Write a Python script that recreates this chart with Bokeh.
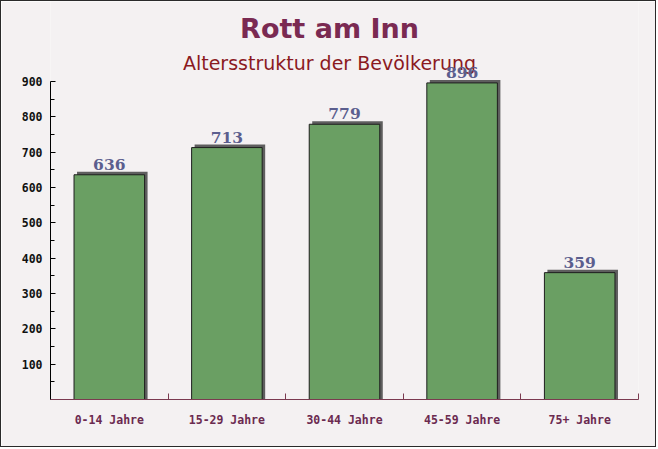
from bokeh.plotting import figure
from bokeh.models import ColumnDataSource, Range1d, FixedTicker, Label, LabelSet
from bokeh.embed import file_html
from bokeh.resources import INLINE
from bokeh.core.properties import value

categories = ["0-14 Jahre", "15-29 Jahre", "30-44 Jahre", "45-59 Jahre", "75+ Jahre"]
values = [636, 713, 779, 896, 359]
y_ticks = [100, 200, 300, 400, 500, 600, 700, 800, 900]

title_text = "Rott am Inn"
subtitle_text = "Altersstruktur der Bevölkerung"

BG = "#f4f1f2"
W, H = 656, 447      # plus a 1px border on each side
LEFT = 49
BOTTOM = 49          # px below the x axis
TOP_900 = 80         # y of the 900 tick
xs = list(range(len(categories)))
frame_h = H - BOTTOM
y_end = 900 * frame_h / (frame_h - TOP_900)
px = frame_h / y_end  # px per data unit
# shadow offsets in data units (approx 3px)
sx = 3 / 117.6
sy = 3 / px

src = ColumnDataSource(dict(
    x=xs, top=values, label=[str(v) for v in values],
    sx=[x + sx for x in xs], stop=[v + sy for v in values],
))

p = figure(width=W, height=H, output_backend="svg", toolbar_location=None,
           x_range=Range1d(-0.5, len(categories) - 0.5), y_range=Range1d(0, y_end),
           min_border_left=LEFT, min_border_right=19, min_border_top=0, min_border_bottom=BOTTOM)
p.styles = {"border": "1px solid #2a2a2a"}
p.background_fill_color = BG
p.border_fill_color = BG
p.outline_line_color = None
p.grid.visible = False

p.vbar(x="sx", top="stop", bottom=0, width=0.6, source=src,
       fill_color="#5e5e5e", line_color=None)
p.vbar(x="x", top="top", bottom=0, width=0.6, source=src,
       fill_color="#6a9f63", line_color="#1e1e1e", line_width=1)

# titles, centred on the canvas (screen units relative to the frame)
cx = W / 2 - LEFT
p.add_layout(Label(x=cx, y=frame_h - 27, x_units="screen", y_units="screen",
                   text=title_text, text_align="center", text_baseline="middle",
                   text_font="DejaVu Sans", text_font_style="bold",
                   text_font_size="27px", text_color="#7a2a52"))
p.add_layout(Label(x=cx, y=frame_h - 61, x_units="screen", y_units="screen",
                   text=subtitle_text, text_align="center", text_baseline="middle",
                   text_font="DejaVu Sans", text_font_style="normal",
                   text_font_size="19px", text_color="#8b1a1f"))

labels = LabelSet(x="x", y="top", text="label", source=src, text_align="center",
                  text_baseline="alphabetic", y_offset=5,
                  text_font=value("DejaVu Serif"), text_font_style="bold",
                  text_font_size="15.5px", text_color="#5b5e8e")
p.add_layout(labels)

xa = p.xaxis[0]
xa.ticker = FixedTicker(ticks=xs, minor_ticks=[x + 0.5 for x in [-1] + xs])
xa.major_label_overrides = {i: c for i, c in enumerate(categories)}
xa.major_tick_line_color = None
xa.minor_tick_in = 6
xa.minor_tick_out = 0
xa.minor_tick_line_color = "#7b3a50"
xa.axis_line_color = "#7b3a50"
xa.major_label_text_font = "DejaVu Sans Mono"
xa.major_label_text_font_style = "bold"
xa.major_label_text_font_size = "11.5px"
xa.major_label_text_color = "#6b2a50"
xa.major_label_standoff = 7

ya = p.yaxis[0]
ya.bounds = (0, 900)
ya.ticker = FixedTicker(ticks=y_ticks, minor_ticks=[t - 50 for t in y_ticks])
ya.major_tick_in = 5
ya.major_tick_out = 0
ya.minor_tick_in = 4
ya.minor_tick_out = 0
ya.axis_line_color = "#000000"
ya.major_label_text_font = "DejaVu Sans Mono"
ya.major_label_text_font_style = "bold"
ya.major_label_text_font_size = "11.5px"
ya.major_label_text_color = "#111111"
ya.major_label_standoff = 8

open("out.html", "w").write(file_html(p, INLINE))
